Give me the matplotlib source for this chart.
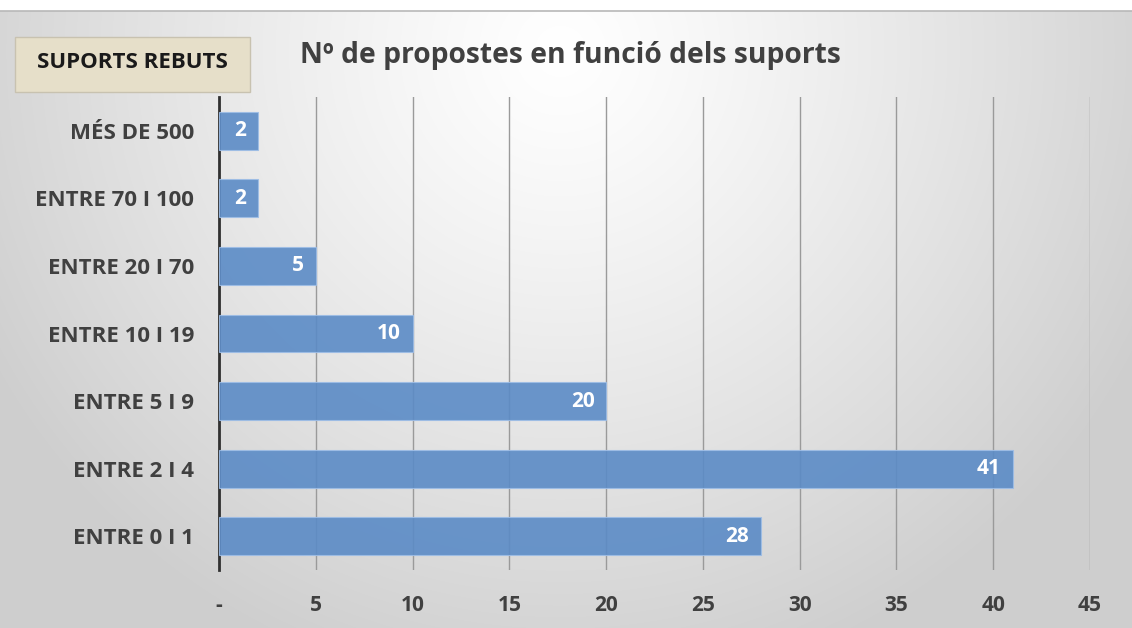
import numpy as np
import matplotlib.pyplot as plt

# data
categories = ['ENTRE 0 I 1', 'ENTRE 2 I 4', 'ENTRE 5 I 9', 'ENTRE 10 I 19',
              'ENTRE 20 I 70', 'ENTRE 70 I 100', 'MÉS DE 500']
values = [28, 41, 20, 10, 5, 2, 2]
xticks = [0, 5, 10, 15, 20, 25, 30, 35, 40, 45]
xtick_labels = ['-', '5', '10', '15', '20', '25', '30', '35', '40', '45']
title = 'Nº de propostes en funció dels suports'
legend_text = 'SUPORTS REBUTS'

plt.rcParams['font.family'] = ['Open Sans', 'DejaVu Sans']

W, H = 1132, 628
fig = plt.figure(figsize=(W / 100, H / 100), dpi=100)
fig.patch.set_facecolor('white')

# radial gray background below the thin top border
bg = fig.add_axes([0, 0, 1, 1 - 11 / H])
bg.set_axis_off()
yy, xx = np.mgrid[0:H - 11, 0:W]
d = np.sqrt(((xx - 560) / 650.0) ** 2 + ((yy - 40) / 650.0) ** 2)
shade = 1.0 - 0.19 * np.clip(d, 0, 1) ** 1.2
bg.imshow(np.dstack([shade, shade, shade]), aspect='auto', extent=[0, 1, 0, 1])
bg.set_xlim(0, 1)
bg.set_ylim(0, 1)
fig.add_artist(plt.Line2D([0, 1], [1 - 11 / H, 1 - 11 / H], color='#b8b8b8', lw=1.2))

ax = fig.add_axes([219 / W, 1 - 570 / H, (1090 - 219) / W, (570 - 97) / H])
ax.patch.set_alpha(0)

y = np.arange(len(categories))
ax.barh(y, values, height=0.56, color='#5b8bc6', edgecolor='#9dbde6',
        linewidth=0.8, alpha=0.9, zorder=3)

for yi, v in zip(y, values):
    ax.text(v - 0.6, yi, str(v), ha='right', va='center', color='white',
            fontsize=15, fontweight='bold', zorder=4)

ax.set_xlim(0, 45)
ax.set_ylim(-0.5, len(categories) - 0.5)
ax.set_xticks(xticks)
ax.set_xticklabels(xtick_labels)
ax.set_yticks(y)
ax.set_yticklabels(categories)
ax.grid(axis='x', color='#9a9a9a', linewidth=1.0, zorder=0)
ax.set_axisbelow(True)
ax.tick_params(axis='x', length=0, pad=18, labelsize=15, labelcolor='#404040')
ax.tick_params(axis='y', length=0, pad=18, labelsize=16, labelcolor='#404040')
for lab in ax.get_xticklabels() + ax.get_yticklabels():
    lab.set_fontweight('bold')
for s in ['top', 'right', 'bottom']:
    ax.spines[s].set_visible(False)
ax.spines['left'].set_color('#303030')
ax.spines['left'].set_linewidth(2)

fig.text(300 / W, 1 - 55 / H, title, ha='left', va='center', fontsize=20.3,
         fontweight='bold', color='#404040')

# legend-like label box
box = plt.Rectangle((15 / W, 1 - 92 / H), (250 - 15) / W, (92 - 37) / H,
                    transform=fig.transFigure, facecolor='#e6dfc9',
                    edgecolor='#c8c2b0', linewidth=1)
fig.add_artist(box)
fig.text(132 / W, 1 - 63 / H, legend_text, ha='center', va='center',
         fontsize=16, fontweight='bold', color='#1a1a1a')

fig.savefig('out.png', dpi=100)
